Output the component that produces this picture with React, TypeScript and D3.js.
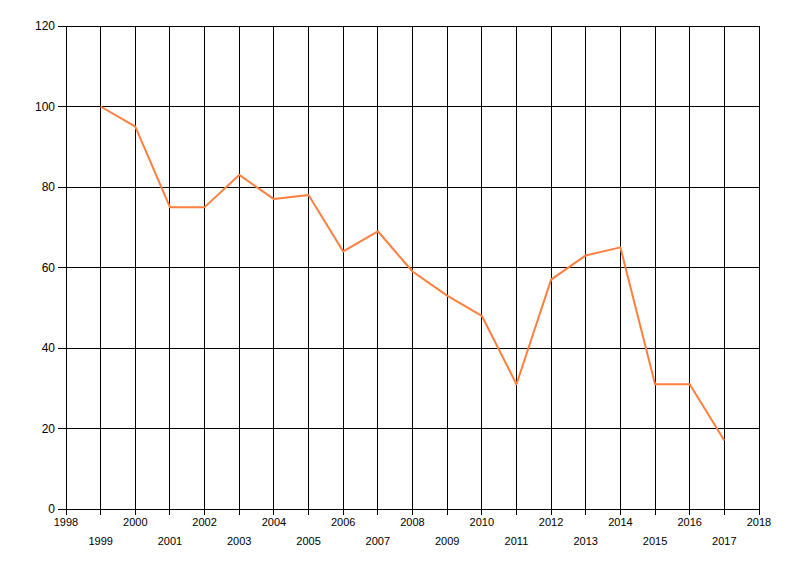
import React from 'react'
import * as d3 from 'd3'

// Yearly values
const years = [1999, 2000, 2001, 2002, 2003, 2004, 2005, 2006, 2007, 2008, 2009, 2010, 2011, 2012, 2013, 2014, 2015, 2016, 2017]
const values = [100, 95, 75, 75, 83, 77, 78, 64, 69, 59, 53, 48, 31, 57, 63, 65, 31, 31, 17]
const xTicks = d3.range(1998, 2019)
const yTicks = [0, 20, 40, 60, 80, 100, 120]

const width = 800
const height = 576
const margin = { top: 26, right: 41, bottom: 67, left: 66 }

export default function App() {
  const x = d3.scaleLinear().domain([1998, 2018]).range([margin.left, width - margin.right])
  const y = d3.scaleLinear().domain([0, 120]).range([height - margin.bottom, margin.top])

  const line = d3.line<number>()
    .x((_, i) => x(years[i]))
    .y(d => y(d))

  const font = '"Liberation Sans", Arial, sans-serif'
  const y0 = y(0)

  return (
    <svg
      width={width}
      height={height}
      style={{ position: 'absolute', left: 0, top: 0, background: '#fff' }}
      fontFamily={font}
      fontSize={11}
    >
      {/* vertical grid + ticks */}
      {xTicks.map(t => (
        <g key={'x' + t}>
          <line x1={x(t)} x2={x(t)} y1={y(120)} y2={y0 + 6} stroke="#000" strokeWidth={1} shapeRendering="crispEdges" />
          <text
            x={x(t)}
            y={(t % 2 === 0) ? y0 + 17 : y0 + 36}
            textAnchor="middle"
            fill="#000"
          >
            {t}
          </text>
        </g>
      ))}
      {/* horizontal grid + ticks */}
      {yTicks.map(t => (
        <g key={'y' + t}>
          <line x1={margin.left - 8} x2={x(2018)} y1={y(t)} y2={y(t)} stroke="#000" strokeWidth={1} shapeRendering="crispEdges" />
          <text x={margin.left - 11} y={y(t)} dy="0.35em" textAnchor="end" fill="#000" fontSize={12}>
            {t}
          </text>
        </g>
      ))}
      <path d={line(values) ?? ''} fill="none" stroke="#ff7f3f" strokeWidth={2} strokeLinejoin="round" />
    </svg>
  )
}
